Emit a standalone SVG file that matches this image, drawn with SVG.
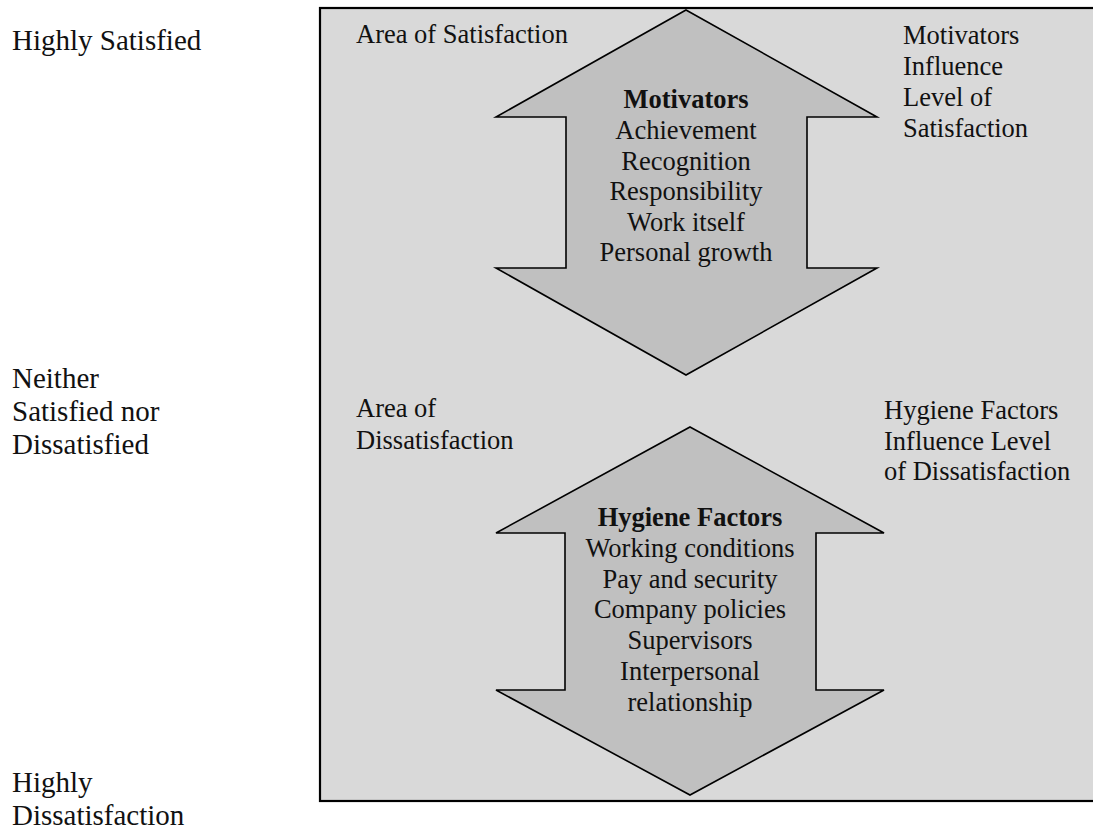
<svg xmlns="http://www.w3.org/2000/svg" width="1093" height="831" viewBox="0 0 1093 831">
<style>
text{font-family:"Liberation Serif","Times New Roman",serif;fill:#111;}
.big{font-size:29px;}
.t{font-size:26.5px;}
.c{text-anchor:middle;}
.b{font-weight:bold;}
.arrow{fill:#c0c0c0;stroke:#000;stroke-width:1.6;stroke-linejoin:miter;}
</style>
<rect width="1093" height="831" fill="#fff"/>
<g id="area">
<rect x="320" y="8" width="800" height="793" fill="#d9d9d9" stroke="#000" stroke-width="2.2"/>
</g>
<g id="scale-labels">
<text class="big" x="12" y="50">Highly Satisfied</text>
<text class="big" x="12" y="388">Neither</text>
<text class="big" x="12" y="421">Satisfied nor</text>
<text class="big" x="12" y="454">Dissatisfied</text>
<text class="big" x="12" y="792">Highly</text>
<text class="big" x="12" y="825">Dissatisfaction</text>
</g>
<g id="area-labels">
<text class="t" x="356" y="43">Area of Satisfaction</text>
<text class="t" x="356" y="417">Area of</text>
<text class="t" x="356" y="449">Dissatisfaction</text>
<text class="t" x="903" y="44">Motivators</text>
<text class="t" x="903" y="75">Influence</text>
<text class="t" x="903" y="106">Level of</text>
<text class="t" x="903" y="137">Satisfaction</text>
<text class="t" x="884" y="419">Hygiene Factors</text>
<text class="t" x="884" y="450">Influence Level</text>
<text class="t" x="884" y="480">of Dissatisfaction</text>
</g>
<g id="motivators">
<polygon class="arrow" points="686,10 877,117 807,117 807,268 877,268 686,375 496,268 566,268 566,117 496,117"/>
<text class="t c b" x="686" y="108">Motivators</text>
<text class="t c" x="686" y="139">Achievement</text>
<text class="t c" x="686" y="169.5">Recognition</text>
<text class="t c" x="686" y="200">Responsibility</text>
<text class="t c" x="686" y="230.5">Work itself</text>
<text class="t c" x="686" y="261">Personal growth</text>
</g>
<g id="hygiene">
<polygon class="arrow" points="690,427 884,533 816,533 816,690 884,690 690,795 496,690 565,690 565,533 496,533"/>
<text class="t c b" x="690" y="526">Hygiene Factors</text>
<text class="t c" x="690" y="557">Working conditions</text>
<text class="t c" x="690" y="587.5">Pay and security</text>
<text class="t c" x="690" y="618">Company policies</text>
<text class="t c" x="690" y="649">Supervisors</text>
<text class="t c" x="690" y="680">Interpersonal</text>
<text class="t c" x="690" y="711">relationship</text>
</g>
<g id="connectors"></g>
</svg>
